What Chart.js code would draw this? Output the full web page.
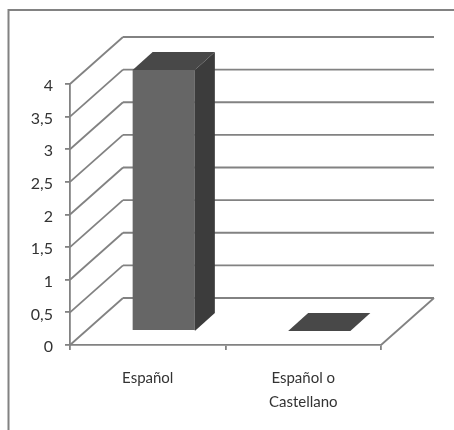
<!DOCTYPE html>
<html>
<head>
<meta charset="utf-8">
<style>
  html, body { margin: 0; background: #fff; }
  canvas { display: block; }
</style>
<script src="https://cdn.jsdelivr.net/npm/chart.js@4/dist/chart.umd.min.js"></script>
</head>
<body>
<canvas id="chart" width="454" height="430"></canvas>
<script>
const categories = ['Español', ['Español o', 'Castellano']];
const values = [4, 0];
const yMax = 4;
const yStep = 0.5;

const LINE = '#828282';
const TEXT = '#333333';
const wallDepth = { x: 53, y: -47 };   // floor and wall lines run back by this much
const barShift = { x: 16, y: -14 };    // bars stand part way into the floor
const barDepth = { x: 20, y: -18 };

// outer border, only top and left show
const framePlugin = {
  id: 'frame',
  beforeDraw(chart) {
    const ctx = chart.ctx;
    ctx.save();
    ctx.strokeStyle = LINE;
    ctx.lineWidth = 2;
    ctx.beginPath();
    ctx.moveTo(8.5, 430);
    ctx.lineTo(8.5, 10);
    ctx.lineTo(454, 10);
    ctx.stroke();
    ctx.restore();
  }
};

function line(ctx, x1, y1, x2, y2) {
  ctx.beginPath();
  ctx.moveTo(x1, y1);
  ctx.lineTo(x2, y2);
  ctx.stroke();
}

function face(ctx, pts, color) {
  ctx.fillStyle = color;
  ctx.beginPath();
  pts.forEach((p, i) => i ? ctx.lineTo(p[0], p[1]) : ctx.moveTo(p[0], p[1]));
  ctx.closePath();
  ctx.fill();
}

const depthPlugin = {
  id: 'depth',
  beforeDatasetsDraw(chart) {
    const { ctx, chartArea: area, scales } = chart;
    ctx.save();
    ctx.strokeStyle = LINE;
    ctx.lineWidth = 1.8;
    // left wall diagonals and the back wall rules, one per y tick
    scales.y.ticks.forEach(t => {
      const y = scales.y.getPixelForValue(t.value);
      line(ctx, area.left, y, area.left + wallDepth.x, y + wallDepth.y);
      line(ctx, area.left + wallDepth.x, y + wallDepth.y, area.right + wallDepth.x, y + wallDepth.y);
    });
    // right edge of the floor
    const y0 = scales.y.getPixelForValue(0);
    line(ctx, area.right, y0, area.right + wallDepth.x, y0 + wallDepth.y);
    ctx.restore();

    // the native bars become the front faces, moved back onto the floor
    ctx.save();
    ctx.translate(barShift.x, barShift.y);
  },
  afterDatasetsDraw(chart) {
    const { ctx, scales } = chart;
    ctx.restore();
    const base = scales.y.getPixelForValue(0) + barShift.y;
    chart.getDatasetMeta(0).data.forEach(bar => {
      const half = bar.width / 2;
      const l = bar.x - half + barShift.x;
      const r = bar.x + half + barShift.x;
      const top = bar.y + barShift.y;
      const dx = barDepth.x, dy = barDepth.y;
      if (top < base) {
        face(ctx, [[r, top], [r + dx, top + dy], [r + dx, base + dy], [r, base]], '#3c3c3c');
      }
      face(ctx, [[l, top], [l + dx, top + dy], [r + dx, top + dy], [r, top]], '#484848');
    });
  }
};

new Chart(document.getElementById('chart'), {
  type: 'bar',
  data: {
    labels: categories,
    datasets: [{
      data: values,
      backgroundColor: '#666666',
      borderWidth: 0,
      categoryPercentage: 1,
      barPercentage: 0.4,
      clip: false
    }]
  },
  options: {
    responsive: false,
    animation: false,
    layout: { padding: { top: 84, right: 73, left: 0, bottom: 0 } },
    plugins: { legend: { display: false }, tooltip: { enabled: false } },
    scales: {
      x: {
        afterFit(scale) { scale.height = 85; },
        grid: { drawOnChartArea: false, color: LINE, lineWidth: 1.8, tickLength: 5, offset: true },
        border: { color: LINE, width: 1.8 },
        ticks: {
          color: TEXT,
          padding: 16,
          maxRotation: 0,
          font: { family: 'Lato', size: 15, lineHeight: 1.6 }
        }
      },
      y: {
        min: 0,
        max: yMax,
        afterFit(scale) { scale.width = 70; },
        grid: { drawOnChartArea: false, color: LINE, lineWidth: 1.8, tickLength: 5 },
        border: { color: LINE, width: 1.8 },
        ticks: {
          stepSize: yStep,
          color: TEXT,
          padding: 12,
          labelOffset: 2,
          font: { family: 'Lato', size: 16 },
          callback: v => String(v).replace('.', ',')
        }
      }
    }
  },
  plugins: [framePlugin, depthPlugin]
});
</script>
</body>
</html>
